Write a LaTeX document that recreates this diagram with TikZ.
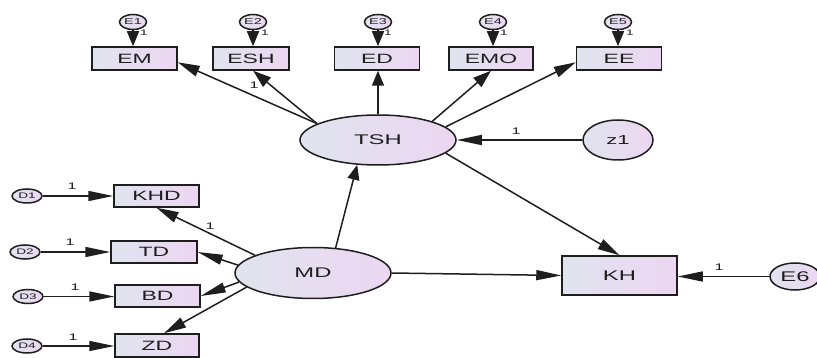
\documentclass[tikz,border=0pt]{standalone}
\usepackage{fontspec}
\newfontfamily\amos[FakeStretch=1.7]{Liberation Sans}
\usetikzlibrary{arrows.meta,shapes.geometric}
\definecolor{cl}{RGB}{224,228,238}
\definecolor{cr}{RGB}{236,214,242}
\definecolor{ink}{RGB}{30,30,30}
\begin{document}
\begin{tikzpicture}[x=1pt,y=-1pt,
  every node/.style={text=ink},
  obs/.style={draw=ink,line width=1.5pt,rectangle,left color=cl,right color=cr,inner sep=0pt,minimum height=22pt,font=\amos\fontsize{13.5}{13.5}\selectfont},
  lat/.style={draw=ink,line width=1.5pt,ellipse,left color=cl,right color=cr,inner sep=0pt,font=\amos\fontsize{14}{14}\selectfont},
  err/.style={lat,font=\amos\fontsize{8.5}{8.5}\selectfont,minimum width=27pt,minimum height=15pt},
  dsm/.style={lat,font=\amos\fontsize{8}{8}\selectfont,minimum width=30pt,minimum height=14pt},
  lbl/.style={inner sep=0pt,font=\amos\fontsize{9.5}{9.5}\selectfont},
  slbl/.style={inner sep=0pt,font=\amos\fontsize{8}{8}\selectfont},
  con/.style={draw=ink,line width=1.5pt},
  aH/.style={con,-{Triangle[length=25pt,width=10pt]}},
  aV/.style={con,-{Triangle[length=15pt,width=12pt]}},
  aDa/.style={con,-{Triangle[length=22pt,width=11pt]}},
  aDb/.style={con,-{Triangle[length=18pt,width=12pt]}}
]
\useasboundingbox (0,0) rectangle (817,358);
% top indicators
\node[obs,minimum width=85pt,minimum height=23pt] (em) at (134.5,58.5) {EM};
\node[obs,minimum width=76pt,minimum height=23pt] (esh) at (251,58.5) {ESH};
\node[obs,minimum width=85pt,minimum height=23pt] (ed) at (377,58.5) {ED};
\node[obs,minimum width=84pt,minimum height=23pt] (emo) at (491,58.5) {EMO};
\node[obs,minimum width=85pt,minimum height=23pt] (ee) at (619,58.5) {EE};
\node[err] (e1) at (133,22) {E1};
\node[err] (e2) at (253,22) {E2};
\node[err] (e3) at (378,22) {E3};
\node[err] (e4) at (493,22) {E4};
\node[err] (e5) at (618,22) {E5};
% latent
\node[lat,minimum width=156pt,minimum height=50pt] (tsh) at (378,140) {TSH};
\node[lat,minimum width=70pt,minimum height=40pt,font=\amos\fontsize{13}{13}\selectfont] (z1) at (618,140) {z1};
\node[lat,minimum width=156pt,minimum height=51pt] (md) at (313,273) {MD};
\node[obs,minimum width=115pt,minimum height=39pt,font=\amos\fontsize{14}{14}\selectfont] (kh) at (619.5,275.5) {KH};
\node[lat,minimum width=50pt,minimum height=27pt] (e6) at (795,276.5) {E6};
% left indicators
\node[obs,minimum width=85pt] (khd) at (156.5,196) {KHD};
\node[obs,minimum width=86pt] (td) at (154,252) {TD};
\node[obs,minimum width=85pt] (bd) at (157.5,296) {BD};
\node[obs,minimum width=84pt,minimum height=23pt] (zd) at (157,345.5) {ZD};
\node[dsm] (d1) at (27,196) {D1};
\node[dsm] (d2) at (25,252) {D2};
\node[dsm] (d3) at (28,296.5) {D3};
\node[dsm] (d4) at (27,346) {D4};
% error arrows top
\draw[aV] (e1.south) -- (e1.south |- em.north);
\draw[aV] (e2.south) -- (e2.south |- esh.north);
\draw[aV] (e3.south) -- (e3.south |- ed.north);
\draw[aV] (e4.south) -- (e4.south |- emo.north);
\draw[aV] (e5.south) -- (e5.south |- ee.north);
\node[slbl] (le1) at (144,33) {1};
\node[slbl] (le2) at (265,33) {1};
\node[slbl] (le3) at (388,33) {1};
\node[slbl] (le4) at (504,33) {1};
\node[slbl] (le5) at (630,33) {1};
% TSH loadings
\draw[aDa] (tsh.165) -- (em.-5);
\draw[aDb] (tsh.165) -- (esh.-80);
\draw[aV] (tsh.north) -- (tsh.north |- ed.south);
\draw[aDb] (tsh.19) -- (emo.south);
\draw[aDa] (tsh.11) -- (ee.185);
\node[lbl] (lesh) at (254,85) {1};
\draw[aH] (z1.west) -- (tsh.east);
\node[lbl] (lz1) at (516,131) {1};
\draw[aDa] (tsh.-11) -- (kh.north);
% MD
\draw[aV] (md.48) -- (tsh.230);
\draw[aH] (md.east) -- (kh.west);
\draw[aH] (e6.west) -- (e6.west -| kh.east);
\node[lbl] (le6) at (719,267) {1};
\draw[aDa] (md.163) -- (khd.south);
\node[lbl] (lkhd) at (210,226) {1};
\draw[aH] (md.174) -- (td.east);
\draw[aH] (md.-173) -- (bd.east);
\draw[aDa] (md.-168) -- (zd.60);
% D arrows
\draw[aH] (d1.east) -- (d1.east -| khd.west);
\draw[aH] (d2.east) -- (d2.east -| td.west);
\draw[aH] (d3.east) -- (d3.east -| bd.west);
\draw[aH] (d4.east) -- (d4.east -| zd.west);
\node[lbl] (ld1) at (72,186) {1};
\node[lbl] (ld2) at (70,242) {1};
\node[lbl] (ld3) at (75,287) {1};
\node[lbl] (ld4) at (73,337) {1};
\end{tikzpicture}
\end{document}
